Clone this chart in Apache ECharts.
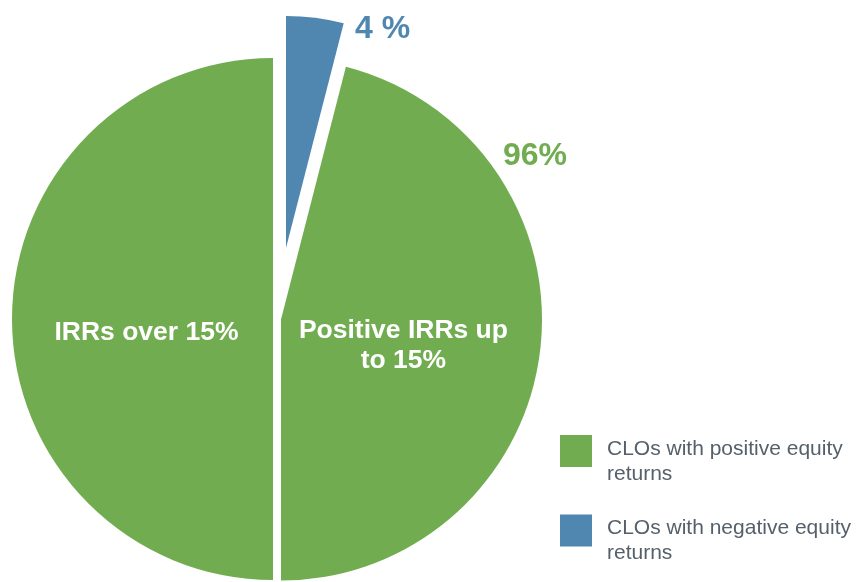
<!DOCTYPE html>
<html>
<head>
<meta charset="utf-8">
<script src="https://cdn.jsdelivr.net/npm/echarts@6/dist/echarts.min.js"></script>
<style>
  html, body { margin: 0; padding: 0; background: #fff; }
  #chart { width: 857px; height: 582px; }
</style>
</head>
<body>
<div id="chart"></div>
<script>
// shares in %, clockwise from 12 o'clock
const negativeShare = 4;
const positiveNames = ['Positive IRRs up to 15%', 'IRRs over 15%'];
const positiveLabels = ['Positive IRRs up\nto 15%', 'IRRs over 15%'];
const positiveShares = [46, 50];
const legendNames = ['CLOs with positive equity returns', 'CLOs with negative equity returns'];

const GREEN = '#71ad50';
const BLUE = '#4f87b1';
const FONT = '"Liberation Sans", Arial, sans-serif';

const chart = echarts.init(document.getElementById('chart'));

// angle helpers: echarts 90 = top, clockwise
const toAngle = (pct) => 90 - pct * 3.6;

// exploded slices: each one gets its own centre
const greenCenters = [[281, 319.5], [273, 319]];
const greenLabelShift = [{ dx: -10, dy: 9 }, { dx: 7, dy: 14 }];

const series = [];

series.push({
  name: legendNames[1],
  type: 'pie',
  center: [286, 248],
  radius: 232,
  startAngle: toAngle(0),
  endAngle: toAngle(negativeShare),
  clockwise: true,
  silent: true,
  itemStyle: { color: BLUE, borderWidth: 0 },
  label: {
    show: true,
    position: 'outside',
    formatter: () => negativeShare + ' %',
    color: BLUE,
    fontFamily: FONT,
    fontWeight: 'bold',
    fontSize: 32
  },
  labelLine: { show: false, length: 0, length2: 35 },
  labelLayout: { dy: 11 },
  emphasis: { disabled: true },
  data: [{ name: 'negative', value: negativeShare }]
});

let cum = negativeShare;
positiveShares.forEach((v, i) => {
  series.push({
    name: legendNames[0],
    type: 'pie',
    center: greenCenters[i],
    radius: 261,
    startAngle: toAngle(cum),
    endAngle: toAngle(cum + v),
    clockwise: true,
    silent: true,
    itemStyle: { color: GREEN, borderWidth: 0 },
    label: {
      show: true,
      position: 'inside',
      formatter: () => positiveLabels[i],
      color: '#fff',
      fontFamily: FONT,
      fontWeight: 'bold',
      fontSize: 26.5,
      lineHeight: 30,
      align: 'center'
    },
    labelLine: { show: false },
    labelLayout: greenLabelShift[i],
    emphasis: { disabled: true },
    data: [{ name: positiveNames[i], value: v }]
  });
  cum += v;
});

const positiveTotal = positiveShares.reduce((a, b) => a + b, 0);

const option = {
  animation: false,
  backgroundColor: '#fff',
  legend: {
    orient: 'vertical',
    left: 560,
    top: 424,
    padding: 0,
    itemWidth: 32,
    itemHeight: 32,
    itemGap: 19,
    selectedMode: false,
    icon: 'rect',
    data: [
      { name: legendNames[0], itemStyle: { color: GREEN } },
      { name: legendNames[1], itemStyle: { color: BLUE } }
    ],
    // blank first row pushes the two text rows a bit below the swatch centre
    formatter: (name) => {
      const parts = name.replace(' equity returns', ' equity\nreturns').split('\n');
      return '{s| }\n' + parts.map((p) => '{t|' + p + '}').join('\n');
    },
    textStyle: {
      padding: [0, 0, 0, 10],
      rich: {
        s: { fontSize: 4, lineHeight: 21 },
        t: { color: '#56606b', fontFamily: FONT, fontSize: 21, lineHeight: 25 }
      }
    }
  },
  graphic: [{
    type: 'text',
    left: 503,
    top: 140,
    style: {
      text: positiveTotal + '%',
      fill: GREEN,
      font: 'bold 32px ' + FONT
    }
  }],
  series: series
};

chart.setOption(option);
</script>
</body>
</html>
